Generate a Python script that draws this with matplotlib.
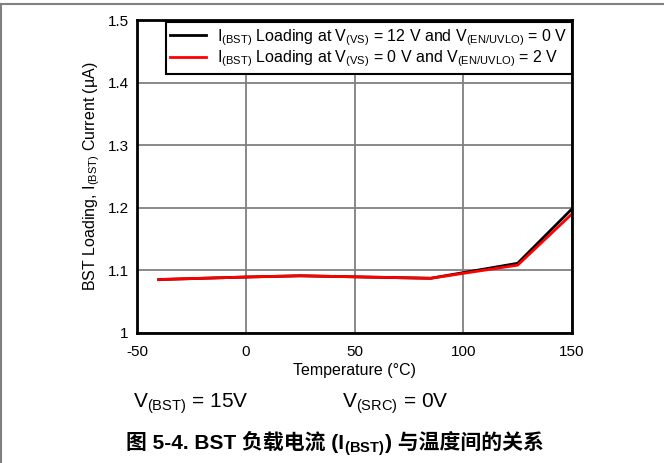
import numpy as np
import matplotlib
matplotlib.use('Agg')
from matplotlib import pyplot as plt
from matplotlib.lines import Line2D

plt.rcParams['font.family'] = ['Liberation Sans', 'Noto Sans CJK SC', 'DejaVu Sans']
plt.rcParams['mathtext.fontset'] = 'custom'
plt.rcParams['mathtext.rm'] = 'Liberation Sans'
plt.rcParams['mathtext.bf'] = 'Liberation Sans:bold'
plt.rcParams['axes.unicode_minus'] = False

temp = [-40, 0, 25, 85, 125, 150]
i_vs12 = [1.085, 1.089, 1.091, 1.087, 1.111, 1.198]
i_vs0 = [1.085, 1.089, 1.091, 1.087, 1.108, 1.190]

xticks = [-50, 0, 50, 100, 150]
yticks = [1, 1.1, 1.2, 1.3, 1.4, 1.5]
yticklabels = ['1', '1.1', '1.2', '1.3', '1.4', '1.5']

label_a = r'I$_\mathregular{(BST)}$ Loading at V$_\mathregular{(VS)}$ = 12 V and V$_\mathregular{(EN/UVLO)}$ = 0 V'
label_b = r'I$_\mathregular{(BST)}$ Loading at V$_\mathregular{(VS)}$ = 0 V and V$_\mathregular{(EN/UVLO)}$ = 2 V'

# caption split so the CJK parts are plain text (mathtext has no font fallback)
caption = ['图 5-4. BST 负载电流 (I', r'$\mathbf{_{(BST)}}$', ') 与温度间的关系']

fig = plt.figure(figsize=(6.64, 4.63), dpi=100)
ax = fig.add_axes([137 / 664, 1 - 332.7 / 463, 435 / 664, 312.7 / 463])

ax.plot(temp, i_vs12, color='black', lw=2, label=label_a)
ax.plot(temp, i_vs0, color='red', lw=2, label=label_b)

ax.set_xlim(-50, 150)
ax.set_ylim(1, 1.5)
ax.set_xticks(xticks)
ax.set_yticks(yticks)
ax.set_yticklabels(yticklabels)
ax.tick_params(length=0, labelsize=11)
ax.tick_params(axis='x', pad=9)
ax.tick_params(axis='y', pad=6)
ax.grid(True, color='#808080', lw=1.3)
for s in ax.spines.values():
    s.set_linewidth(2)
    s.set_color('black')

ax.set_xlabel('Temperature (°C)', fontsize=11.5, labelpad=3)
ax.set_ylabel(r'BST Loading, I$_\mathregular{(BST)}$ Current (µA)', fontsize=11.5, labelpad=4)

leg = ax.legend(loc='upper right', bbox_to_anchor=(1.0, 0.993), fontsize=11.5,
                fancybox=False, framealpha=1, edgecolor='black',
                handlelength=2.2, handletextpad=0.7, borderpad=0.3,
                labelspacing=0.05, borderaxespad=0)
leg.get_frame().set_linewidth(1.5)

fig.text(133 / 664, 1 - 404 / 463, r'V$_\mathregular{(BST)}$ = 15V', fontsize=15, va='center')
fig.text(342 / 664, 1 - 404 / 463, r'V$_\mathregular{(SRC)}$ = 0V', fontsize=15, va='center')

# caption pieces laid out left to right, then centred
renderer = fig.canvas.get_renderer()
x = 0.0
y = 1 - 449 / 463
pieces = []
for part in caption:
    t = fig.text(x, y, part, fontsize=15, fontweight='bold', va='baseline')
    w = t.get_window_extent(renderer).width / fig.bbox.width
    pieces.append((t, x))
    x += w
shift = 335 / 664 - x / 2
for t, x0 in pieces:
    t.set_x(x0 + shift)

fig.add_artist(Line2D([0, 1], [1 - 3.5 / 463, 1 - 3.5 / 463], color='#808080', lw=1.5))
fig.add_artist(Line2D([0.7 / 664, 0.7 / 664], [0, 1 - 3.5 / 463], color='#808080', lw=1.5))

fig.savefig('out.png', dpi=100)
